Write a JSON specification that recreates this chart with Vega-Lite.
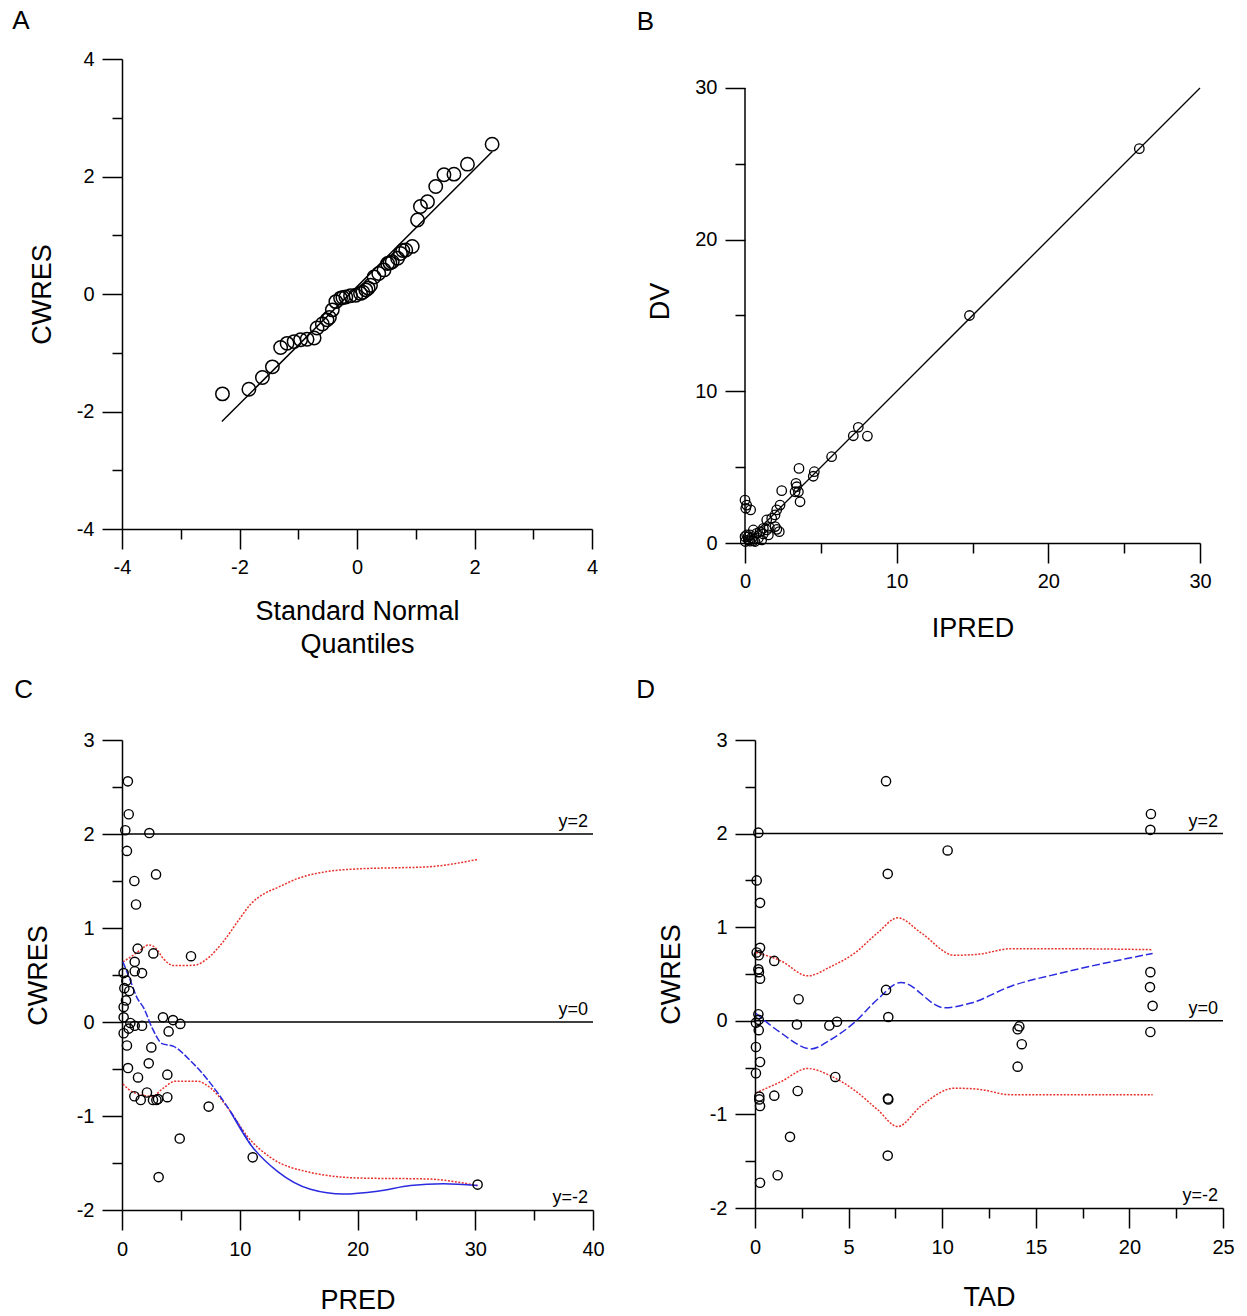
{
 "$schema": "https://vega.github.io/schema/vega-lite/v6.json",
 "padding": {"left": 12, "top": 8, "right": 5, "bottom": 5},
 "background": "white",
 "config": {
  "view": {"stroke": null},
  "font": "Liberation Sans",
  "axis": {"grid": false, "domainColor": "#000", "domainWidth": 1.5, "tickColor": "#000", "tickWidth": 1.5, "labelFont": "Liberation Sans", "labelFontSize": 20, "labelColor": "#000", "titleFont": "Liberation Sans", "titleFontSize": 27, "titleFontWeight": "normal", "titleColor": "#000", "labelPadding": 8, "titlePadding": 22, "labelFlush": false, "labelOverlap": false},
  "title": {"font": "Liberation Sans", "fontSize": 26, "fontWeight": "normal", "anchor": "start", "frame": "bounds", "color": "#000"}
 },
 "datasets": {
  "qq": [
   {"x":-2.29,"y":-1.70},{"x":-1.84,"y":-1.62},{"x":-1.61,"y":-1.42},{"x":-1.44,"y":-1.24},{"x":-1.30,"y":-0.91},{"x":-1.19,"y":-0.84},{"x":-1.07,"y":-0.81},{"x":-0.96,"y":-0.78},{"x":-0.85,"y":-0.77},{"x":-0.73,"y":-0.75},{"x":-0.68,"y":-0.58},{"x":-0.59,"y":-0.51},{"x":-0.51,"y":-0.44},{"x":-0.47,"y":-0.40},{"x":-0.42,"y":-0.27},{"x":-0.36,"y":-0.13},{"x":-0.28,"y":-0.07},{"x":-0.24,"y":-0.06},{"x":-0.19,"y":-0.05},{"x":-0.11,"y":-0.03},{"x":-0.02,"y":-0.02},{"x":0.06,"y":0.01},{"x":0.10,"y":0.03},{"x":0.15,"y":0.07},{"x":0.19,"y":0.10},{"x":0.23,"y":0.15},{"x":0.29,"y":0.29},{"x":0.37,"y":0.35},{"x":0.46,"y":0.41},{"x":0.52,"y":0.52},{"x":0.56,"y":0.53},{"x":0.60,"y":0.55},{"x":0.69,"y":0.61},{"x":0.74,"y":0.69},{"x":0.78,"y":0.74},{"x":0.83,"y":0.75},{"x":0.94,"y":0.81},{"x":1.03,"y":1.26},{"x":1.08,"y":1.49},{"x":1.20,"y":1.57},{"x":1.34,"y":1.83},{"x":1.48,"y":2.03},{"x":1.65,"y":2.04},{"x":1.88,"y":2.21},{"x":2.30,"y":2.55}
  ],
  "qq_line": [{"x":-2.3,"y":-2.17},{"x":2.3,"y":2.42}],
  "dv": [
   {"x":26.0,"y":26.0},{"x":14.8,"y":15.0},{"x":7.47,"y":7.63},{"x":7.14,"y":7.07},{"x":8.07,"y":7.05},{"x":5.71,"y":5.69},{"x":4.57,"y":4.70},{"x":4.50,"y":4.40},{"x":3.56,"y":4.92},{"x":3.36,"y":3.93},{"x":3.41,"y":3.71},{"x":3.30,"y":3.38},{"x":3.52,"y":3.38},{"x":3.63,"y":2.72},{"x":2.42,"y":3.45},{"x":2.31,"y":2.50},{"x":2.09,"y":2.18},{"x":1.98,"y":1.85},{"x":1.76,"y":1.63},{"x":1.43,"y":1.52},{"x":2.26,"y":0.75},{"x":1.98,"y":1.08},{"x":1.60,"y":1.03},{"x":1.21,"y":0.97},{"x":0.99,"y":0.75},{"x":0.77,"y":0.64},{"x":0.55,"y":0.86},{"x":0.33,"y":0.53},{"x":0.0,"y":2.83},{"x":0.11,"y":2.50},{"x":0.37,"y":2.18},{"x":0.05,"y":2.29},{"x":0.11,"y":0.53},{"x":0.22,"y":0.20},{"x":0.55,"y":0.15},{"x":0.88,"y":0.31},{"x":1.10,"y":0.20},{"x":1.54,"y":0.53},{"x":1.43,"y":0.86},{"x":0.66,"y":0.10},{"x":0.02,"y":0.10},{"x":0.33,"y":0.12},{"x":0.0,"y":0.42},{"x":0.2,"y":0.4},{"x":1.2,"y":0.6},{"x":2.1,"y":0.9},{"x":0.45,"y":0.35}
  ],
  "dv_line": [{"x":0,"y":0},{"x":30,"y":30}],
  "dv_axis": [{"x":0,"y":0},{"x":0,"y":30}],
  "cpts": [
   {"x":0.57,"y":2.21},{"x":0.28,"y":2.04},{"x":2.32,"y":2.01},{"x":0.42,"y":1.82},{"x":2.89,"y":1.57},{"x":1.05,"y":1.50},{"x":1.19,"y":1.25},{"x":1.33,"y":0.78},{"x":2.66,"y":0.73},{"x":5.86,"y":0.70},{"x":1.08,"y":0.64},{"x":1.08,"y":0.54},{"x":1.70,"y":0.52},{"x":0.14,"y":0.52},{"x":0.37,"y":0.44},{"x":0.20,"y":0.36},{"x":0.62,"y":0.33},{"x":0.34,"y":0.23},{"x":0.14,"y":0.16},{"x":0.14,"y":0.05},{"x":0.71,"y":-0.01},{"x":1.08,"y":-0.04},{"x":1.70,"y":-0.04},{"x":0.57,"y":-0.07},{"x":0.14,"y":-0.12},{"x":3.48,"y":0.05},{"x":4.33,"y":0.02},{"x":4.95,"y":-0.02},{"x":3.96,"y":-0.10},{"x":0.42,"y":-0.25},{"x":2.49,"y":-0.27},{"x":0.51,"y":-0.49},{"x":2.27,"y":-0.44},{"x":1.36,"y":-0.59},{"x":3.85,"y":-0.56},{"x":1.05,"y":-0.79},{"x":1.59,"y":-0.83},{"x":2.12,"y":-0.75},{"x":2.63,"y":-0.83},{"x":2.92,"y":-0.83},{"x":3.06,"y":-0.82},{"x":3.85,"y":-0.80},{"x":7.36,"y":-0.90},{"x":4.90,"y":-1.24},{"x":3.11,"y":-1.65},{"x":11.1,"y":-1.44},{"x":30.2,"y":-1.73},{"x":0.5,"y":2.56}
  ],
  "c_up": [{"x":0.08,"y":0.64},{"x":0.71,"y":0.69},{"x":1.5,"y":0.76},{"x":2.27,"y":0.82},{"x":2.83,"y":0.79},{"x":3.54,"y":0.67},{"x":4.39,"y":0.60},{"x":5.4,"y":0.60},{"x":6.37,"y":0.61},{"x":7.2,"y":0.67},{"x":8.63,"y":0.86},{"x":10.0,"y":1.10},{"x":10.9,"y":1.25},{"x":12.0,"y":1.36},{"x":13.2,"y":1.43},{"x":15.0,"y":1.53},{"x":17.4,"y":1.60},{"x":20.2,"y":1.63},{"x":23.0,"y":1.64},{"x":25.9,"y":1.65},{"x":28.0,"y":1.68},{"x":30.2,"y":1.73}],
  "c_lo": [{"x":0.08,"y":-0.66},{"x":0.99,"y":-0.75},{"x":2.55,"y":-0.79},{"x":3.54,"y":-0.70},{"x":4.53,"y":-0.63},{"x":6.37,"y":-0.63},{"x":7.5,"y":-0.70},{"x":9.2,"y":-0.95},{"x":10.6,"y":-1.21},{"x":12.6,"y":-1.44},{"x":16.0,"y":-1.60},{"x":20.2,"y":-1.66},{"x":25.9,"y":-1.67},{"x":30.2,"y":-1.74}],
  "c_mid_a": [{"x":0.08,"y":0.64},{"x":0.71,"y":0.44},{"x":1.27,"y":0.26},{"x":1.84,"y":0.15},{"x":2.55,"y":-0.06},{"x":3.40,"y":-0.23},{"x":4.39,"y":-0.26},{"x":5.8,"y":-0.41},{"x":7.5,"y":-0.65},{"x":9.2,"y":-0.95},{"x":10.9,"y":-1.30}],
  "c_mid_b": [{"x":9.2,"y":-0.95},{"x":10.9,"y":-1.30},{"x":13.2,"y":-1.59},{"x":16.0,"y":-1.78},{"x":18.8,"y":-1.83},{"x":21.7,"y":-1.80},{"x":24.5,"y":-1.74},{"x":27.3,"y":-1.72},{"x":30.2,"y":-1.74}],
  "c_ref": [{"x":0,"x2":40,"y":2},{"x":0,"x2":40,"y":0}],
  "c_lab": [{"x":40,"y":2,"label":"y=2"},{"x":40,"y":0,"label":"y=0"},{"x":40,"y":-2,"label":"y=-2"}],
  "dpts": [
   {"x":0.18,"y":2.01},{"x":0.09,"y":1.50},{"x":0.27,"y":1.26},{"x":0.27,"y":0.78},{"x":0.09,"y":0.73},{"x":0.20,"y":0.70},{"x":1.03,"y":0.64},{"x":0.18,"y":0.55},{"x":0.21,"y":0.52},{"x":0.27,"y":0.45},{"x":2.33,"y":0.23},{"x":0.18,"y":0.07},{"x":0.20,"y":0.01},{"x":0.05,"y":-0.02},{"x":0.20,"y":-0.10},{"x":2.24,"y":-0.04},{"x":3.97,"y":-0.05},{"x":4.38,"y":-0.01},{"x":0.05,"y":-0.28},{"x":0.27,"y":-0.44},{"x":0.05,"y":-0.56},{"x":4.29,"y":-0.60},{"x":0.23,"y":-0.81},{"x":0.23,"y":-0.84},{"x":1.03,"y":-0.80},{"x":2.28,"y":-0.75},{"x":0.27,"y":-0.91},{"x":1.87,"y":-1.24},{"x":1.21,"y":-1.65},{"x":0.27,"y":-1.73},{"x":7.09,"y":1.57},{"x":7.0,"y":0.33},{"x":7.12,"y":0.04},{"x":7.12,"y":-0.84},{"x":7.10,"y":-0.83},{"x":7.09,"y":-1.44},{"x":7.0,"y":2.56},{"x":21.15,"y":2.21},{"x":21.12,"y":2.04},{"x":10.29,"y":1.82},{"x":21.12,"y":0.52},{"x":21.1,"y":0.36},{"x":21.24,"y":0.16},{"x":21.12,"y":-0.12},{"x":14.12,"y":-0.06},{"x":14.03,"y":-0.09},{"x":14.25,"y":-0.25},{"x":14.03,"y":-0.49}
  ],
  "d_up": [{"x":0.05,"y":0.73},{"x":1.39,"y":0.64},{"x":2.81,"y":0.48},{"x":4.06,"y":0.58},{"x":5.3,"y":0.72},{"x":6.55,"y":0.94},{"x":7.62,"y":1.10},{"x":8.87,"y":0.94},{"x":10.65,"y":0.70},{"x":11.9,"y":0.71},{"x":13.68,"y":0.77},{"x":16.35,"y":0.77},{"x":21.24,"y":0.76}],
  "d_lo": [{"x":0.05,"y":-0.77},{"x":1.39,"y":-0.65},{"x":2.81,"y":-0.51},{"x":4.06,"y":-0.59},{"x":5.3,"y":-0.74},{"x":6.55,"y":-0.95},{"x":7.62,"y":-1.13},{"x":8.87,"y":-0.91},{"x":10.65,"y":-0.72},{"x":11.9,"y":-0.73},{"x":13.68,"y":-0.79},{"x":16.35,"y":-0.79},{"x":21.24,"y":-0.79}],
  "d_mid": [{"x":0.05,"y":0.08},{"x":1.39,"y":-0.13},{"x":2.99,"y":-0.30},{"x":4.06,"y":-0.20},{"x":5.3,"y":-0.02},{"x":6.55,"y":0.23},{"x":7.8,"y":0.41},{"x":10.11,"y":0.14},{"x":11.54,"y":0.19},{"x":13.68,"y":0.37},{"x":16.35,"y":0.51},{"x":21.24,"y":0.72}],
  "d_ref": [{"x":0,"x2":25,"y":2},{"x":0,"x2":25,"y":0}],
  "d_lab": [{"x":25,"y":2,"label":"y=2"},{"x":25,"y":0,"label":"y=0"},{"x":25,"y":-2,"label":"y=-2"}]
 },
 "spacing": 20,
 "vconcat": [
  {
   "spacing": 38,
   "hconcat": [
    {
     "width": 470, "height": 470,
     "title": {"text": "A", "offset": 15, "dx": -16},
     "encoding": {
      "x": {"field": "x", "type": "quantitative", "scale": {"domain": [-4, 4], "nice": false, "zero": false},
            "axis": {"values": [-4,-3,-2,-1,0,1,2,3,4], "labelExpr": "datum.value % 2 == 0 ? '' + datum.value : ''", "tickSize": {"condition": {"test": "datum.value % 2 == 0", "value": 20}, "value": 10}, "title": ["Standard Normal", "Quantiles"], "titleLineHeight": 33, "titlePadding": 21}},
      "y": {"field": "y", "type": "quantitative", "scale": {"domain": [-4, 4], "nice": false, "zero": false},
            "axis": {"values": [-4,-3,-2,-1,0,1,2,3,4], "labelExpr": "datum.value % 2 == 0 ? '' + datum.value : ''", "tickSize": {"condition": {"test": "datum.value % 2 == 0", "value": 20}, "value": 10}, "title": "CWRES", "titlePadding": 20}}
     },
     "layer": [
      {"data": {"name": "qq_line"}, "mark": {"type": "line", "color": "#000", "strokeWidth": 1.5}},
      {"data": {"name": "qq"}, "mark": {"type": "point", "shape": "circle", "size": 180, "stroke": "#000", "strokeWidth": 1.5, "opacity": 1, "filled": false}}
     ]
    },
    {
     "width": 455, "height": 484,
     "title": {"text": "B", "offset": 24, "dx": -10},
     "encoding": {
      "x": {"field": "x", "type": "quantitative", "scale": {"domain": [0, 30], "nice": false, "zero": false},
            "axis": {"values": [0,5,10,15,20,25,30], "labelExpr": "datum.value % 10 == 0 ? '' + datum.value : ''", "tickSize": {"condition": {"test": "datum.value % 10 == 0", "value": 20}, "value": 10}, "title": "IPRED", "titlePadding": 24}},
      "y": {"field": "y", "type": "quantitative", "scale": {"domain": [0, 31.912], "nice": false, "zero": false},
            "axis": {"domain": false, "values": [0,5,10,15,20,25,30], "labelExpr": "datum.value % 10 == 0 ? '' + datum.value : ''", "tickSize": {"condition": {"test": "datum.value % 10 == 0", "value": 20}, "value": 10}, "title": "DV", "titlePadding": 20}}
     },
     "layer": [
      {"data": {"name": "dv_axis"}, "mark": {"type": "line", "color": "#000", "strokeWidth": 1.5}},
      {"data": {"name": "dv_line"}, "mark": {"type": "line", "color": "#000", "strokeWidth": 1.3}},
      {"data": {"name": "dv"}, "mark": {"type": "point", "shape": "circle", "size": 90, "stroke": "#000", "strokeWidth": 1.3, "opacity": 1, "filled": false}}
     ]
    }
   ]
  },
  {
   "spacing": 31,
   "hconcat": [
    {
     "width": 471, "height": 470,
     "title": {"text": "C", "offset": 27, "dx": -10},
     "encoding": {
      "x": {"field": "x", "type": "quantitative", "scale": {"domain": [0, 40], "nice": false, "zero": false},
            "axis": {"values": [0,5,10,15,20,25,30,35,40], "labelExpr": "datum.value % 10 == 0 ? '' + datum.value : ''", "tickSize": {"condition": {"test": "datum.value % 10 == 0", "value": 20}, "value": 10}, "title": "PRED", "titlePadding": 28, "labelPadding": 9}},
      "y": {"field": "y", "type": "quantitative", "scale": {"domain": [-2, 3], "nice": false, "zero": false},
            "axis": {"values": [-2,-1.5,-1,-0.5,0,0.5,1,1.5,2,2.5,3], "labelExpr": "datum.value % 1 == 0 ? '' + datum.value : ''", "tickSize": {"condition": {"test": "datum.value % 1 == 0", "value": 20}, "value": 10}, "title": "CWRES", "titlePadding": 24}}
     },
     "layer": [
      {"data": {"name": "c_ref"}, "mark": {"type": "rule", "color": "#000", "strokeWidth": 1.5}, "encoding": {"x2": {"field": "x2"}}},
      {"data": {"name": "c_up"}, "mark": {"type": "line", "color": "#e8322c", "strokeWidth": 1.5, "strokeDash": [2, 1.5], "interpolate": "monotone"}},
      {"data": {"name": "c_lo"}, "mark": {"type": "line", "color": "#e8322c", "strokeWidth": 1.5, "strokeDash": [2, 1.5], "interpolate": "monotone"}},
      {"data": {"name": "c_mid_a"}, "mark": {"type": "line", "color": "#2a2ae0", "strokeWidth": 1.5, "strokeDash": [7, 2], "interpolate": "monotone"}},
      {"data": {"name": "c_mid_b"}, "mark": {"type": "line", "color": "#2a2ae0", "strokeWidth": 1.5, "interpolate": "monotone"}},
      {"data": {"name": "cpts"}, "mark": {"type": "point", "shape": "circle", "size": 85, "stroke": "#000", "strokeWidth": 1.4, "opacity": 1, "filled": false}},
      {"data": {"name": "c_lab"}, "mark": {"type": "text", "align": "right", "baseline": "bottom", "dx": -5, "dy": -3, "fontSize": 18, "font": "Liberation Sans", "color": "#000"}, "encoding": {"text": {"field": "label"}}}
     ]
    },
    {
     "width": 468, "height": 468,
     "title": {"text": "D", "offset": 27, "dx": -21},
     "encoding": {
      "x": {"field": "x", "type": "quantitative", "scale": {"domain": [0, 25], "nice": false, "zero": false},
            "axis": {"values": [0,2.5,5,7.5,10,12.5,15,17.5,20,22.5,25], "labelExpr": "datum.value % 5 == 0 ? '' + datum.value : ''", "tickSize": {"condition": {"test": "datum.value % 5 == 0", "value": 20}, "value": 10}, "title": "TAD", "titlePadding": 27, "labelPadding": 9}},
      "y": {"field": "y", "type": "quantitative", "scale": {"domain": [-2, 3], "nice": false, "zero": false},
            "axis": {"values": [-2,-1.5,-1,-0.5,0,0.5,1,1.5,2,2.5,3], "labelExpr": "datum.value % 1 == 0 ? '' + datum.value : ''", "tickSize": {"condition": {"test": "datum.value % 1 == 0", "value": 20}, "value": 10}, "title": "CWRES", "titlePadding": 24}}
     },
     "layer": [
      {"data": {"name": "d_ref"}, "mark": {"type": "rule", "color": "#000", "strokeWidth": 1.5}, "encoding": {"x2": {"field": "x2"}}},
      {"data": {"name": "d_up"}, "mark": {"type": "line", "color": "#e8322c", "strokeWidth": 1.5, "strokeDash": [2, 1.5], "interpolate": "monotone"}},
      {"data": {"name": "d_lo"}, "mark": {"type": "line", "color": "#e8322c", "strokeWidth": 1.5, "strokeDash": [2, 1.5], "interpolate": "monotone"}},
      {"data": {"name": "d_mid"}, "mark": {"type": "line", "color": "#2a2ae0", "strokeWidth": 1.5, "strokeDash": [8, 3], "interpolate": "monotone"}},
      {"data": {"name": "dpts"}, "mark": {"type": "point", "shape": "circle", "size": 85, "stroke": "#000", "strokeWidth": 1.4, "opacity": 1, "filled": false}},
      {"data": {"name": "d_lab"}, "mark": {"type": "text", "align": "right", "baseline": "bottom", "dx": -5, "dy": -3, "fontSize": 18, "font": "Liberation Sans", "color": "#000"}, "encoding": {"text": {"field": "label"}}}
     ]
    }
   ]
  }
 ]
}
